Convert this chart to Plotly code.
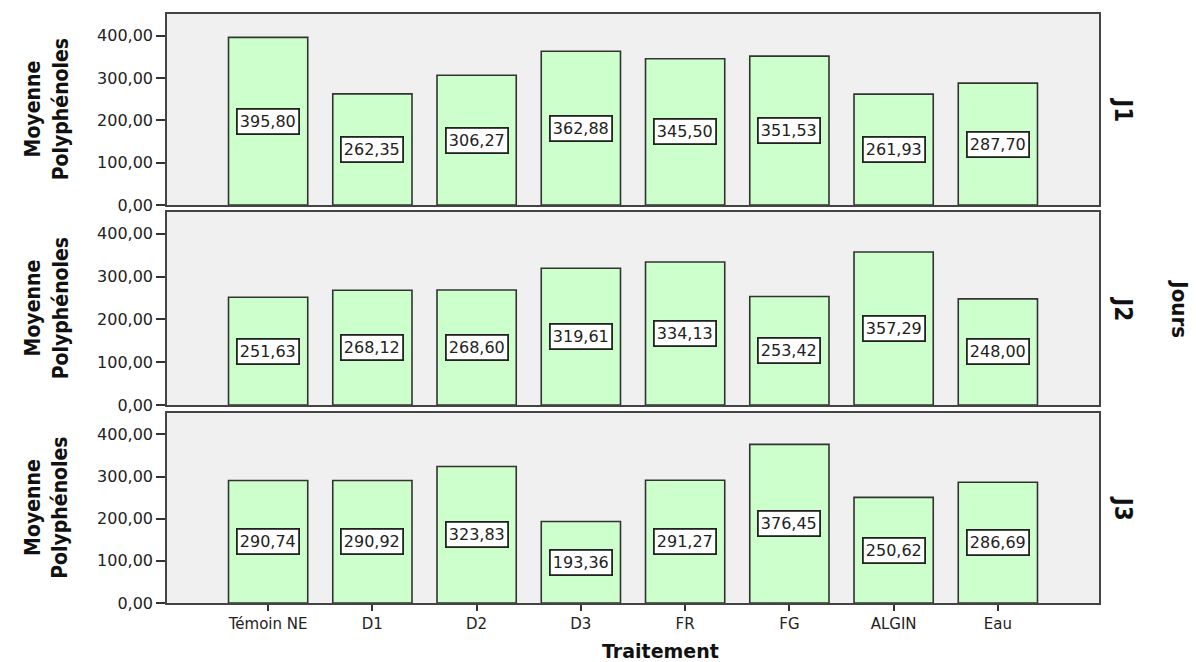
import plotly.graph_objects as go

traitements = ["Témoin NE", "D1", "D2", "D3", "FR", "FG", "ALGIN", "Eau"]
jours = ["J1", "J2", "J3"]
j1 = [395.80, 262.35, 306.27, 362.88, 345.50, 351.53, 261.93, 287.70]
j2 = [251.63, 268.12, 268.60, 319.61, 334.13, 253.42, 357.29, 248.00]
j3 = [290.74, 290.92, 323.83, 193.36, 291.27, 376.45, 250.62, 286.69]
y_ticks = [0, 100, 200, 300, 400]

series = [j1, j2, j3]
domains = [[0.6757, 1.0], [0.336, 0.664], [0.0, 0.3226]]

fig = go.Figure()
narrow = "Liberation Sans Narrow, DejaVu Sans Condensed, Arial, sans-serif"
wide = "DejaVu Sans, Verdana, sans-serif"

for i, (vals, dom, jour) in enumerate(zip(series, domains, jours)):
    n = i + 1
    xa = "x" if n == 1 else f"x{n}"
    ya = "y" if n == 1 else f"y{n}"
    fig.add_trace(go.Bar(
        x=traitements, y=vals, xaxis=xa, yaxis=ya,
        marker=dict(color="#ccffcc", line=dict(color="#333333", width=1.6)),
        width=0.76, showlegend=False, hoverinfo="x+y",
    ))
    # value labels, boxed, centred at half the bar height
    for t, v in zip(traitements, vals):
        fig.add_annotation(
            x=t, y=v / 2, xref=xa, yref=ya, text=f"{v:.2f}".replace(".", ","),
            showarrow=False, font=dict(family=wide, size=16, color="#222222"),
            bgcolor="white", bordercolor="#222222", borderwidth=1.8, borderpad=2,
        )
    xkey = "xaxis" if n == 1 else f"xaxis{n}"
    ykey = "yaxis" if n == 1 else f"yaxis{n}"
    fig.update_layout({
        xkey: dict(
            domain=[0, 1], anchor=ya, range=[-0.97, 7.97],
            matches=None if n == 1 else "x",
            showticklabels=(n == 3), ticks="outside" if n == 3 else "",
            ticklen=6, tickwidth=1.5, tickcolor="#333333",
            tickfont=dict(family=wide, size=15, color="#222222"),
            showline=True, linecolor="#444444", linewidth=1.5, mirror=True,
            showgrid=False, zeroline=False,
        ),
        ykey: dict(
            domain=dom, anchor=xa, range=[0, 451],
            tickvals=y_ticks, tickformat=".2f", ticks="outside",
            ticklen=9, tickwidth=1.5, tickcolor="#333333",
            tickfont=dict(family=wide, size=16, color="#222222"),
            showline=True, linecolor="#444444", linewidth=1.5, mirror=True,
            showgrid=False, zeroline=False,
        ),
    })
    mid = (dom[0] + dom[1]) / 2
    fig.add_annotation(
        x=-0.129, y=mid, xref="paper", yref="paper", text="Moyenne<br>Polyphénoles",
        textangle=-90, showarrow=False, xanchor="center", yanchor="middle",
        font=dict(family=narrow, size=21, color="#111111", weight="bold"),
    )
    fig.add_annotation(
        x=1.026, y=mid, xref="paper", yref="paper", text=jour,
        textangle=90, showarrow=False, xanchor="center", yanchor="middle",
        font=dict(family=narrow, size=24, color="#111111", weight="bold"),
    )

fig.add_annotation(
    x=1.086, y=0.5, xref="paper", yref="paper", text="Jours",
    textangle=90, showarrow=False, xanchor="center", yanchor="middle",
    font=dict(family=narrow, size=22, color="#111111", weight="bold"),
)
fig.add_annotation(
    x=0.53, y=-0.082, xref="paper", yref="paper", text="Traitement",
    showarrow=False, yanchor="middle",
    font=dict(family=wide, size=19, color="#111111", weight="bold"),
)

fig.update_layout(
    width=1196, height=662,
    margin=dict(l=167, r=97, t=14, b=59),
    paper_bgcolor="white", plot_bgcolor="#f0f0f0",
    separators=", ", bargap=0.24,
)

fig.write_html("out.html")
